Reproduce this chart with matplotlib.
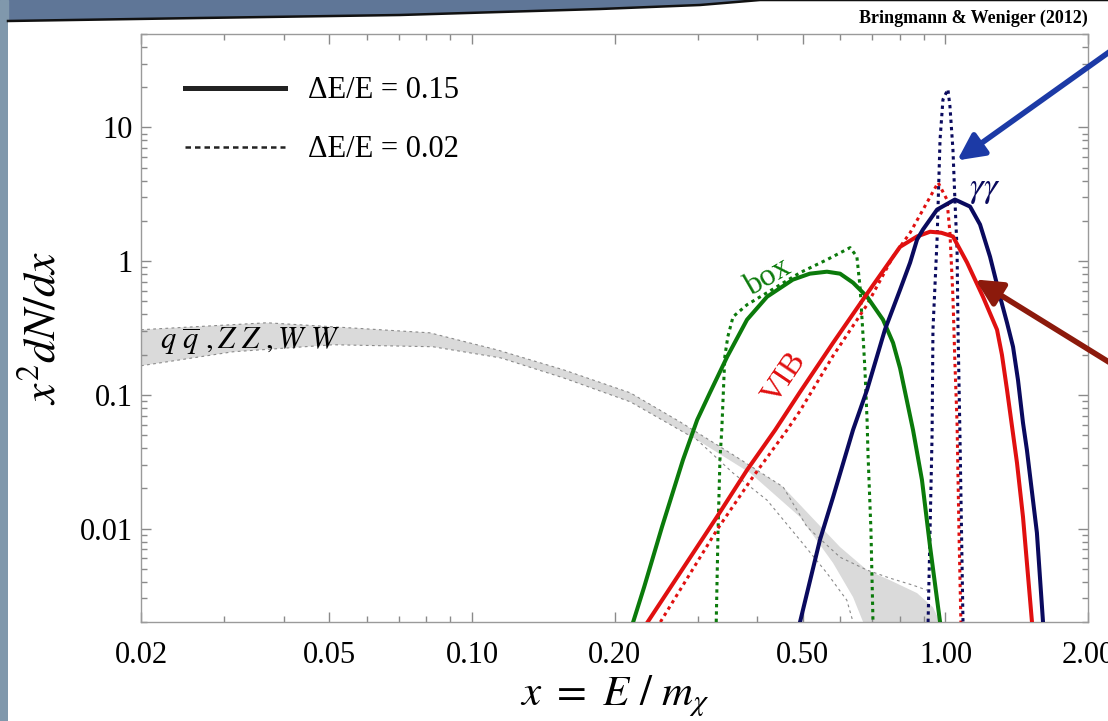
import numpy as np
import matplotlib.pyplot as plt
from matplotlib.lines import Line2D
from matplotlib.patches import Polygon, Rectangle, FancyArrowPatch
from matplotlib.ticker import FixedLocator, FixedFormatter, LogLocator, NullFormatter

plt.rcParams['font.family'] = 'serif'
plt.rcParams['font.serif'] = ['Liberation Serif', 'DejaVu Serif']
plt.rcParams['mathtext.fontset'] = 'stix'

# --- values (x = E/m_chi, y = x^2 dN/dx) ---
# box, dE/E = 0.15
box_x = [0.219, 0.231, 0.252, 0.279, 0.299, 0.318, 0.346, 0.381, 0.420, 0.476, 0.517, 0.562, 0.599, 0.638, 0.683, 0.738, 0.775, 0.802, 0.854, 0.892, 0.928, 0.974]
box_y = [0.002, 0.00365, 0.0103, 0.0326, 0.065, 0.1035, 0.193, 0.365, 0.542, 0.727, 0.806, 0.834, 0.806, 0.690, 0.542, 0.365, 0.245, 0.158, 0.0547, 0.0231, 0.0073, 0.002]
# box, dE/E = 0.02
box2_x = [0.328, 0.331, 0.334, 0.337, 0.342, 0.347, 0.356, 0.381, 0.420, 0.493, 0.562, 0.629, 0.650, 0.660, 0.670, 0.676, 0.683, 0.686, 0.696, 0.703]
box2_y = [0.002, 0.0100, 0.033, 0.055, 0.193, 0.272, 0.384, 0.472, 0.581, 0.820, 1.026, 1.262, 1.08, 0.644, 0.272, 0.154, 0.065, 0.0368, 0.00975, 0.002]
# VIB, dE/E = 0.15
vib_x = [0.235, 0.329, 0.381, 0.437, 0.493, 0.579, 0.683, 0.802, 0.871, 0.928, 0.980, 1.037, 1.111, 1.200, 1.285, 1.316, 1.349, 1.416, 1.458, 1.523]
vib_y = [0.002, 0.0122, 0.0274, 0.0547, 0.105, 0.245, 0.571, 1.28, 1.53, 1.66, 1.63, 1.53, 0.975, 0.542, 0.307, 0.1995, 0.109, 0.031, 0.0122, 0.002]
# VIB, dE/E = 0.02
vib2_x = [0.250, 0.329, 0.392, 0.463, 0.493, 0.579, 0.683, 0.775, 0.842, 0.965, 1.007, 1.022, 1.037, 1.047, 1.058, 1.068, 1.078]
vib2_y = [0.002, 0.00975, 0.0243, 0.0547, 0.0759, 0.196, 0.472, 1.08, 1.63, 3.87, 2.89, 1.63, 0.542, 0.174, 0.0617, 0.0093, 0.002]
# gamma gamma, dE/E = 0.15
gg_x = [0.493, 0.543, 0.579, 0.638, 0.683, 0.745, 0.802, 0.842, 0.871, 0.896, 0.960, 1.047, 1.127, 1.183, 1.242, 1.304, 1.349, 1.389, 1.423, 1.458, 1.486, 1.560, 1.607]
gg_y = [0.002, 0.0082, 0.0172, 0.0547, 0.109, 0.307, 0.612, 0.975, 1.45, 1.72, 2.43, 2.89, 2.56, 1.88, 1.08, 0.542, 0.346, 0.229, 0.129, 0.0617, 0.0387, 0.0093, 0.002]
# gamma gamma, dE/E = 0.02
gg2_x = [0.919, 0.937, 0.941, 0.960, 0.974, 0.988, 1.012, 1.022, 1.037, 1.047, 1.058, 1.063, 1.073, 1.089]
gg2_y = [0.002, 0.050, 0.307, 1.45, 8.13, 16.2, 19.3, 14.4, 6.85, 2.89, 1.22, 0.307, 0.050, 0.002]
# qq, ZZ, WW band (upper and lower edge of grey area)
band_up_x = [0.02, 0.0369, 0.0545, 0.0815, 0.113, 0.156, 0.216, 0.275, 0.356, 0.454, 0.536, 0.599, 0.683, 0.763, 0.871, 0.941, 0.974]
band_up_y = [0.307, 0.346, 0.318, 0.291, 0.217, 0.154, 0.1035, 0.0628, 0.0356, 0.0205, 0.0110, 0.00727, 0.00489, 0.00411, 0.00329, 0.00258, 0.002]
band_lo_x = [0.02, 0.0313, 0.0509, 0.0827, 0.115, 0.156, 0.216, 0.299, 0.387, 0.493, 0.579, 0.638, 0.670]
band_lo_y = [0.165, 0.210, 0.237, 0.229, 0.189, 0.134, 0.0887, 0.046, 0.026, 0.0122, 0.00552, 0.00307, 0.002]
# thin dotted edges of the band
d1_x = [0.02, 0.0369, 0.0545, 0.0815, 0.113, 0.156, 0.216, 0.275, 0.356, 0.454, 0.510, 0.599, 0.683, 0.763, 0.854, 0.914]
d1_y = [0.307, 0.346, 0.318, 0.291, 0.217, 0.154, 0.1035, 0.0628, 0.0356, 0.0205, 0.0103, 0.0061, 0.00489, 0.00426, 0.00377, 0.00346]
d2_x = [0.02, 0.0313, 0.0509, 0.0827, 0.115, 0.156, 0.216, 0.299, 0.356, 0.420, 0.493, 0.562, 0.619, 0.638]
d2_y = [0.165, 0.210, 0.237, 0.229, 0.189, 0.134, 0.0887, 0.046, 0.026, 0.0163, 0.0082, 0.00464, 0.00291, 0.002]

xticks = [0.02, 0.05, 0.1, 0.2, 0.5, 1.0, 2.0]
xticklabels = ['0.02', '0.05', '0.10', '0.20', '0.50', '1.00', '2.00']
xminor = [0.03, 0.04, 0.06, 0.07, 0.08, 0.09, 0.3, 0.4, 0.6, 0.7, 0.8, 0.9]
yticks = [0.01, 0.1, 1, 10]
yticklabels = ['0.01', '0.1', '1', '10']

green = '#0b7a0b'
red = '#e01010'
navy = '#0a0a5e'

W, H = 1108, 721
fig = plt.figure(figsize=(W / 100, H / 100), dpi=100)
fig.patch.set_facecolor('#5f7697')

# slide page: light left strip, white page with slightly curled top edge
fig.add_artist(Rectangle((0, 0), 8 / W, 1, transform=fig.transFigure, color='#8098ac', zorder=0))
page = [(8, 721), (8, 21), (200, 18), (400, 15), (600, 9), (700, 5), (760, 0), (1108, 0), (1108, 721)]
page = [(px / W, 1 - py / H) for px, py in page]
fig.add_artist(Polygon(page, closed=True, transform=fig.transFigure, facecolor='white', edgecolor='none', zorder=0))
edge = page[1:8]
fig.add_artist(Line2D([p[0] for p in edge], [p[1] for p in edge], transform=fig.transFigure, color='#111111', lw=1.8, zorder=1))

ax = fig.add_axes([141 / W, 1 - 622 / H, 947 / W, 588 / H])
ax.set_facecolor('white')
ax.set_xscale('log')
ax.set_yscale('log')
ax.set_xlim(0.02, 2.0)
ax.set_ylim(0.002, 50)

# grey band
poly_x = np.concatenate([band_up_x, band_lo_x[::-1]])
poly_y = np.concatenate([band_up_y, band_lo_y[::-1]])
ax.fill(poly_x, poly_y, color='#dadada', lw=0, zorder=1)
ax.plot(d1_x, d1_y, color='#8a8a8a', lw=0.8, ls=(0, (2.5, 3)), zorder=2)
ax.plot(d2_x, d2_y, color='#8a8a8a', lw=0.8, ls=(0, (2.5, 3)), zorder=2)

dot = (0, (1.1, 1.3))
ax.plot(box2_x, box2_y, color=green, lw=2.2, ls=dot, zorder=3)
ax.plot(vib2_x, vib2_y, color=red, lw=2.2, ls=dot, zorder=3)
ax.plot(gg2_x, gg2_y, color=navy, lw=2.2, ls=dot, zorder=3)
ax.plot(box_x, box_y, color=green, lw=2.9, zorder=4, solid_joinstyle='round')
ax.plot(vib_x, vib_y, color=red, lw=2.9, zorder=4, solid_joinstyle='round')
ax.plot(gg_x, gg_y, color=navy, lw=2.9, zorder=4, solid_joinstyle='round')

# curve labels
ax.text(0.034, 0.25, r'$q\ \overline{q}\ ,Z\ Z\ ,W\ W$', fontsize=22, ha='center', va='center', zorder=5)
ax.text(0.422, 0.75, 'box', color=green, fontsize=23, rotation=30, ha='center', va='center', zorder=5)
ax.text(0.458, 0.134, 'VIB', color=red, fontsize=23, rotation=56, ha='center', va='center', zorder=5)
ax.text(1.21, 3.43, r'$\gamma\gamma$', color=navy, fontsize=25, ha='center', va='center', zorder=5)

# axes styling
for s in ax.spines.values():
    s.set_color('#9a9a9a')
    s.set_linewidth(1.0)
ax.xaxis.set_major_locator(FixedLocator(xticks))
ax.xaxis.set_major_formatter(FixedFormatter(xticklabels))
ax.xaxis.set_minor_locator(FixedLocator(xminor))
ax.xaxis.set_minor_formatter(NullFormatter())
ax.yaxis.set_major_locator(FixedLocator(yticks))
ax.yaxis.set_major_formatter(FixedFormatter(yticklabels))
ax.yaxis.set_minor_locator(LogLocator(base=10, subs=np.arange(2, 10)))
ax.yaxis.set_minor_formatter(NullFormatter())
ax.tick_params(which='both', direction='in', top=True, right=True, color='#8a8a8a', width=1.0, labelsize=22)
ax.tick_params(which='major', length=7)
ax.tick_params(which='minor', length=4)
ax.tick_params(axis='x', pad=14)
ax.tick_params(axis='y', pad=6)

ax.set_xlabel(r'$x\ =\ E\ /\ m_\chi$', fontsize=31, labelpad=2)
ax.set_ylabel(r'$x^2 dN/dx$', fontsize=33, labelpad=10)

handles = [Line2D([], [], color='#222222', lw=3.6),
           Line2D([], [], color='#222222', lw=1.8, ls=(0, (2.2, 1.6)))]
ax.legend(handles, ['ΔE/E = 0.15', 'ΔE/E = 0.02'], loc='upper left', bbox_to_anchor=(0.046, 0.928),
          frameon=False, fontsize=22, handlelength=3.3, handletextpad=0.75, labelspacing=0.98,
          borderpad=0, borderaxespad=0)

fig.text(1088 / W, 1 - 18 / H, 'Bringmann & Weniger (2012)', fontsize=13, fontweight='bold', ha='right', va='center')

# arrows pointing at the line features
fig.add_artist(FancyArrowPatch((1112 / W, 1 - 50 / H), (955 / W, 1 - 162 / H), transform=fig.transFigure,
                               arrowstyle='-|>,head_length=16,head_width=8', color='#1c3aa6', lw=4, zorder=6))
fig.add_artist(FancyArrowPatch((1112 / W, 1 - 364 / H), (973 / W, 1 - 278 / H), transform=fig.transFigure,
                               arrowstyle='-|>,head_length=16,head_width=8', color='#8c1a0c', lw=4, zorder=6))

fig.savefig('out.png', dpi=100, facecolor=fig.get_facecolor())
